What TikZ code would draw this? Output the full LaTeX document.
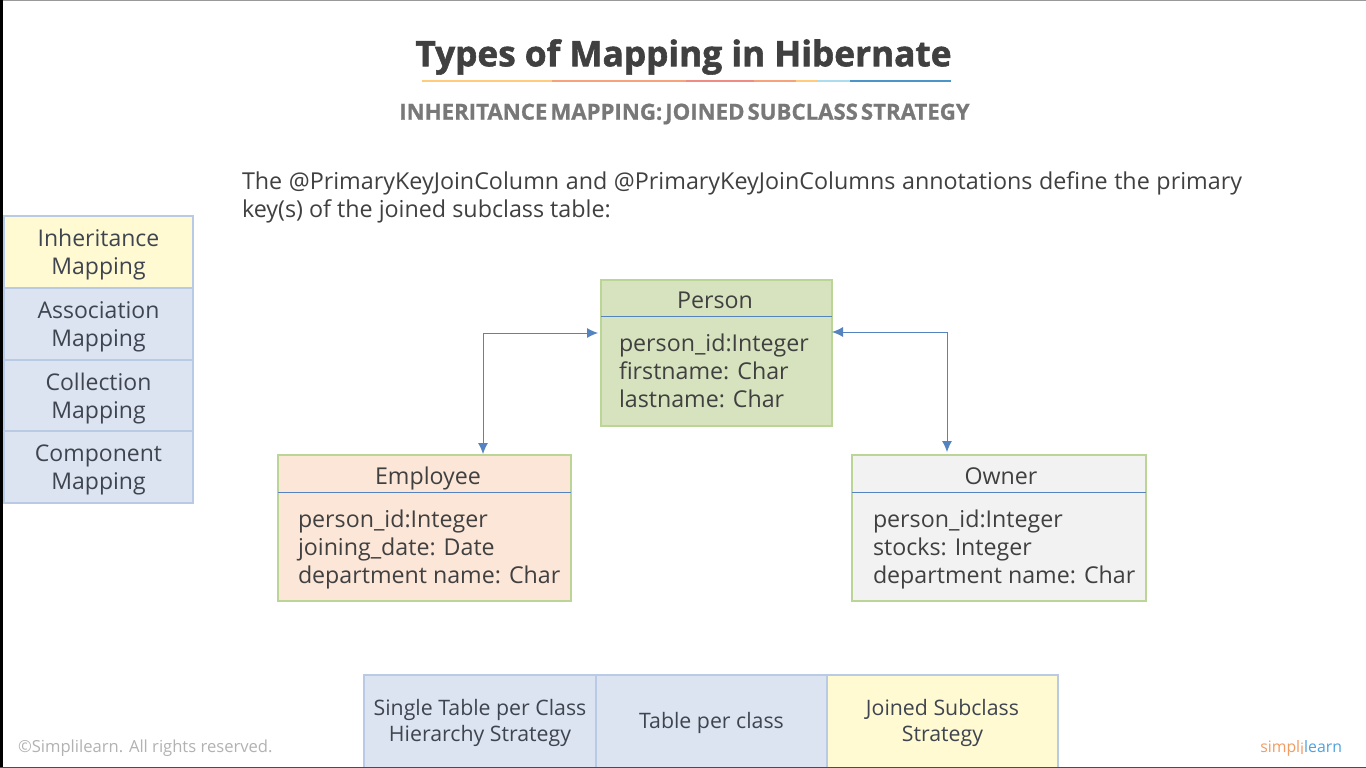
\documentclass[tikz,border=0pt]{standalone}
\usepackage{fontspec}
\setmainfont{Open Sans}
\newfontfamily\heavyfont[BoldFeatures={FakeBold=1.6}]{Open Sans}
\newfontfamily\semiheavyfont[BoldFeatures={FakeBold=0.8}]{Open Sans}
\usetikzlibrary{arrows.meta}
\definecolor{ink}{HTML}{404040}
\definecolor{cellink}{HTML}{3F4550}
\definecolor{bluefill}{HTML}{DCE4F1}
\definecolor{blueedge}{HTML}{B8CAE4}
\definecolor{yellowfill}{HTML}{FFFAD2}
\definecolor{greenfill}{HTML}{D7E3BE}
\definecolor{greenedge}{HTML}{BAD596}
\definecolor{peachfill}{HTML}{FCE6D8}
\definecolor{greyfill}{HTML}{F2F2F2}
\definecolor{connblue}{HTML}{5583C0}
\definecolor{logoa}{HTML}{F29B62}
\definecolor{logob}{HTML}{4FA3DC}
\newcommand{\fsz}[2]{\fontsize{#1}{#2}\selectfont}
\newcommand{\firstline}{\rule{0pt}{22pt}}
\tikzset{
  x=1pt,y=-1pt,
  every node/.style={inner sep=0pt,outer sep=0pt,text=ink},
  cell/.style={draw=blueedge,line width=2pt,fill=bluefill,minimum width=189pt,minimum height=72pt,align=center,font=\fsz{23}{28},text=cellink},
  tabcell/.style={draw=blueedge,line width=2pt,fill=bluefill,minimum width=231pt,minimum height=95.5pt,align=center,font=\fsz{21.3}{26},text=cellink},
  clsbox/.style={draw=greenedge,line width=2pt,minimum height=146pt},
  captext/.style={font=\fsz{23.2}{28},anchor=base},
  attrs/.style={font=\fsz{23.2}{28},align=left,anchor=north west},
  rulec/.style={draw=connblue,line width=0.8pt},
  connector/.style={draw=connblue,line width=0.9pt,{Latex[length=11pt,width=10pt]}-{Latex[length=11pt,width=10pt]}},
  seg/.style={line width=2.2pt}
}
\begin{document}
\begin{tikzpicture}
\useasboundingbox (0,0) rectangle (1366,768);
\fill[white] (0,0) rectangle (1366,768);

\node (title) at (683.5,57) {\fsz{35.2}{40}\heavyfont\bfseries Types of Mapping in Hibernate};
\foreach \a/\b/\c in {422/552/FFCB7D,552/686/F6A37C,686/754/EF8A85,754/796/F6A37C,796/817/FFCB7D,817/850/ABDDEF,850/951/4A96C8}{
  \definecolor{tmpc}{HTML}{\c}
  \draw[seg,tmpc] (\a,81) -- (\b,81);
}
\node[text=black!53] (sub) at (684.5,114) {\fsz{22.2}{26}\semiheavyfont\bfseries\spaceskip=3pt INHERITANCE MAPPING: JOINED SUBCLASS STRATEGY};

\node[anchor=north west,text width=1000pt,align=justify,font=\fsz{23.3}{28}] (intro) at (242,172) {The @PrimaryKeyJoinColumn and @PrimaryKeyJoinColumns annotations define the primary key(s) of the joined subclass table:};

\node[cell,fill=yellowfill,anchor=north west] (c1) at (4,216) {\firstline Inheritance\\Mapping};
\node[cell,anchor=north west] (c2) at (4,288) {\firstline Association\\Mapping};
\node[cell,anchor=north west] (c3) at (4,360) {\firstline Collection\\Mapping};
\node[cell,anchor=north west] (c4) at (4,431) {\firstline Component\\Mapping};

\node[clsbox,fill=greenfill,minimum width=231pt,anchor=north west] (person) at (601,279.5) {};
\draw[rulec] (person.west |- 0,316.5) -- (person.east |- 0,316.5);
\node[captext] (personcap) at (715,308) {Person};
\node[attrs] (personattr) at (619,334) {person\_id:Integer\\firstname: Char\\lastname: Char};

\node[clsbox,fill=peachfill,minimum width=293pt,anchor=north west] (employee) at (278,455) {};
\draw[rulec] (employee.west |- 0,492.5) -- (employee.east |- 0,492.5);
\node[captext] (empcap) at (428,484) {Employee};
\node[attrs] (empattr) at (298,510) {person\_id:Integer\\joining\_date: Date\\department name: Char};

\node[clsbox,fill=greyfill,minimum width=294pt,anchor=north west] (owner) at (852,455) {};
\draw[rulec] (owner.west |- 0,492.5) -- (owner.east |- 0,492.5);
\node[captext] (owncap) at (1001,484) {Owner};
\node[attrs] (ownattr) at (873,510) {person\_id:Integer\\stocks: Integer\\department name: Char};

\coordinate (pl) at (598,333);
\coordinate (el) at (483,454);
\coordinate (pr) at (832,332);
\coordinate (er) at (947,452);
\draw[connector] (pl) -| (el);
\draw[connector] (pr) -| (er);

\begin{scope}
\clip (0,0) rectangle (1366,768);
\node[tabcell,minimum width=232pt,anchor=north west] (t1) at (364,675) {Single Table per Class\\Hierarchy Strategy};
\node[tabcell,anchor=north west] (t2) at (596,675) {Table per class};
\node[tabcell,fill=yellowfill,anchor=north west] (t3) at (827,675) {Joined Subclass\\Strategy};
\end{scope}

\node[anchor=west,text=black!30,font=\fsz{16.6}{20}] (copy) at (18,748) {©Simplilearn. All rights reserved.};
\node[anchor=east,font=\fsz{15.8}{20}] (logo) at (1342,748) {\color{logoa}simpl\raisebox{-2pt}{i}\color{logob}learn};

\fill[black] (0,0) rectangle (3,768);
\fill[black!70] (0,767) rectangle (1366,768);
\fill[black!40] (3,0) rectangle (1366,1);
\end{tikzpicture}
\end{document}
